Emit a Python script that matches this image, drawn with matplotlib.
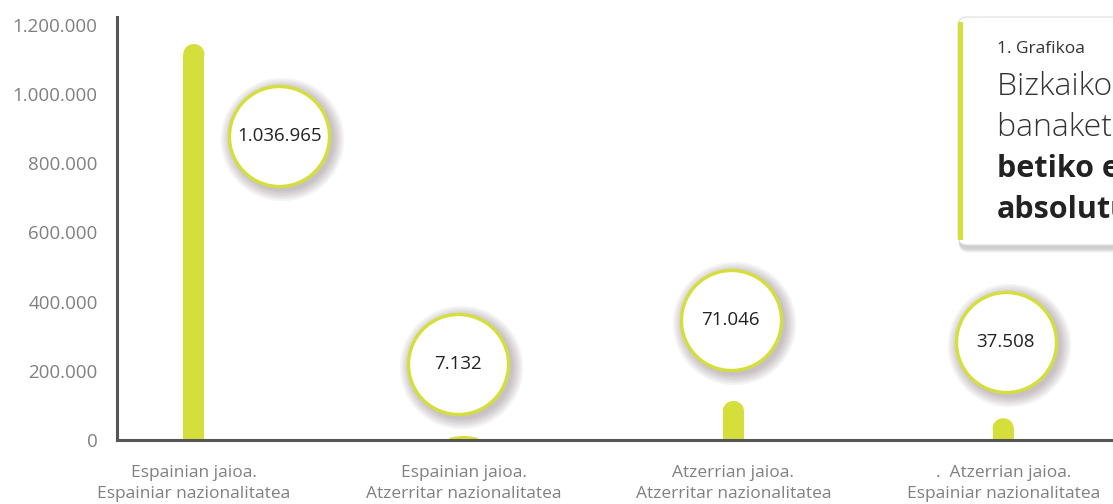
import numpy as np
import matplotlib.pyplot as plt
from matplotlib.patches import Rectangle, Ellipse, FancyBboxPatch
from matplotlib.transforms import IdentityTransform, offset_copy
from matplotlib.ticker import FuncFormatter

plt.rcParams['font.family'] = ['Open Sans', 'DejaVu Sans']

# Datuak
categories = ["Espainian jaioa.\nEspainiar nazionalitatea",
              "Espainian jaioa.\nAtzerritar nazionalitatea",
              "Atzerrian jaioa.\nAtzerritar nazionalitatea",
              ".  Atzerrian jaioa.\nEspainiar nazionalitatea"]
values = [1036965, 7132, 71046, 37508]
# marrazkian barren altuera (irudian ikusten dena)
bar_heights = [1145000, 11500, 113000, 63000]
yticks = [0, 200000, 400000, 600000, 800000, 1000000, 1200000]

green = "#d5df3c"
grey_txt = "#808080"


def fmt(v, pos=None):
    return f"{int(v):,}".replace(",", ".")


fig = plt.figure(figsize=(11.13, 5.04), dpi=100)
ax = fig.add_axes([117 / 1113, 64 / 504, 1 - 117 / 1113, 423 / 504])
ax.set_xlim(-0.285, 3.407)
ax.set_ylim(0, 1223000)

# barrak, goiko muturra biribila
bw = 0.078
r = 10 / 415 * 1200000  # 10px datu unitateetan
for i, h in enumerate(bar_heights):
    if h > r:
        ax.add_patch(Rectangle((i - bw / 2, 0), bw, h - r, color=green, lw=0))
        ax.add_patch(Ellipse((i, h - r), bw, 2 * r, color=green, lw=0))
    else:
        ax.add_patch(Ellipse((i, 0), bw * 1.5, 2 * h, color=green, lw=0))

# burbuilak
bubble_pos = [(0.316, 879000), (0.978, 220000), (1.99, 347000), (3.01, 283000)]
for k in range(7, 0, -1):
    sh = offset_copy(ax.transData, fig=fig, x=3, y=-3, units='dots')
    for (bx, by) in bubble_pos:
        ax.scatter(bx, by, s=(72 + k * 2.4) ** 2, color="#5e4a55", alpha=0.055,
                   lw=0, transform=sh, zorder=3)
for (bx, by), v in zip(bubble_pos, values):
    ax.scatter(bx, by, s=72 ** 2, facecolor="white", edgecolor=green, lw=2.4, zorder=4)
    ax.text(bx, by, fmt(v), ha="center", va="center", fontsize=13.5, color="#222222", zorder=5)

ax.set_yticks(yticks)
ax.yaxis.set_major_formatter(FuncFormatter(fmt))
ax.set_xticks(range(len(categories)))
ax.set_xticklabels(categories, linespacing=1.4)
ax.tick_params(axis="y", length=0, pad=14, labelsize=13.5, labelcolor=grey_txt)
ax.tick_params(axis="x", length=0, pad=18, labelsize=12.5, labelcolor=grey_txt)
for s in ["top", "right"]:
    ax.spines[s].set_visible(False)
for s in ["left", "bottom"]:
    ax.spines[s].set_color("#555555")
    ax.spines[s].set_linewidth(2.2)

# izenburu koadroa
for k in range(8, 0, -1):
    fig.patches.append(FancyBboxPatch((958 + 1, 259 - 3 - k * 0.6), 300, 228, boxstyle="round,pad=0,rounding_size=9",
                                      transform=IdentityTransform(), facecolor="#777777", alpha=0.05, lw=0))
fig.patches.append(FancyBboxPatch((958, 259), 300, 228, boxstyle="round,pad=0,rounding_size=9",
                                  transform=IdentityTransform(), facecolor="white", edgecolor="#dddddd", lw=0.8))
fig.patches.append(Rectangle((958, 264), 5, 218, transform=IdentityTransform(), facecolor=green, lw=0))

tx = 997 / 1113
fig.text(tx, 1 - 49 / 504, "1. Grafikoa", fontsize=12.5, color="#333333", va="center")
fig.text(tx, 1 - 87 / 504, "Bizkaiko biztanleriaren", fontsize=23, color="#333333",
         va="center", fontweight="light")
fig.text(tx, 1 - 128 / 504, "banaketa jaioterriaren arabera.", fontsize=23, color="#333333",
         va="center", fontweight="light")
fig.text(tx, 1 - 169 / 504, "betiko egoiliarrak.", fontsize=22, color="#222222",
         va="center", fontweight="bold")
fig.text(tx, 1 - 210 / 504, "absolutuak", fontsize=22, color="#222222",
         va="center", fontweight="bold")

fig.savefig("out.png", dpi=100)
